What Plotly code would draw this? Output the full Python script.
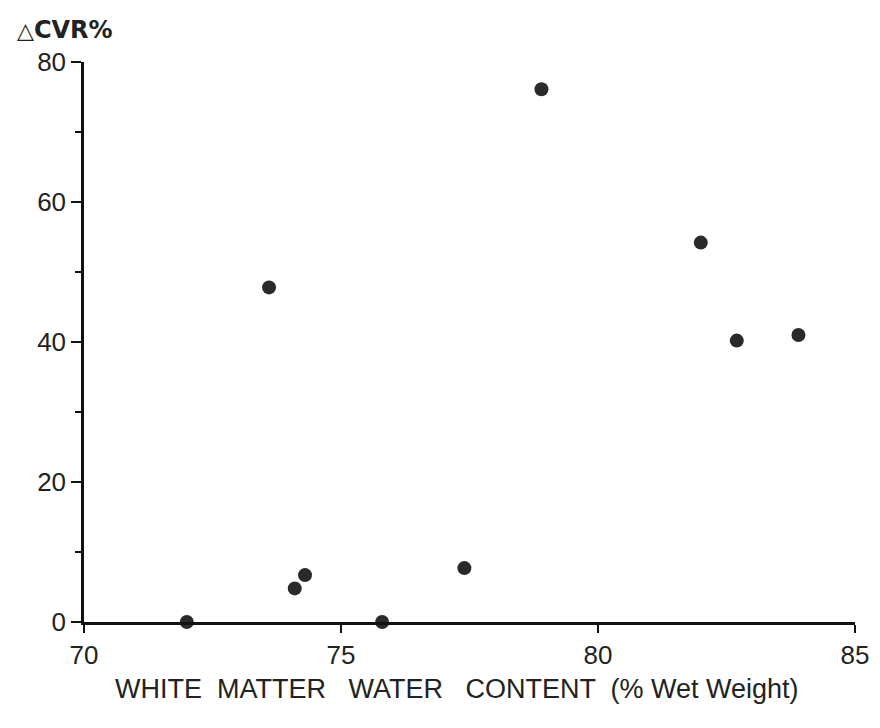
import plotly.graph_objects as go

# Data
water_content = [72.0, 73.6, 74.1, 74.3, 75.8, 77.4, 78.9, 82.0, 82.7, 83.9]
delta_cvr = [0.0, 47.8, 4.8, 6.7, 0.0, 7.7, 76.1, 54.2, 40.2, 41.0]

x_ticks = [70, 75, 80, 85]
y_ticks = [0, 20, 40, 60, 80]

FONT = "Liberation Sans, Arial, Helvetica, sans-serif"
INK = "#222222"

fig = go.Figure()
fig.add_trace(go.Scatter(
    x=water_content, y=delta_cvr, mode="markers",
    marker=dict(size=14, color="#2a2a2a", line=dict(width=0)),
    cliponaxis=False, showlegend=False,
))

fig.update_layout(
    width=880, height=728,
    margin=dict(l=76, r=33, t=54, b=114),
    paper_bgcolor="white", plot_bgcolor="white",
    font=dict(family=FONT, color=INK),
    xaxis=dict(
        range=[70, 85], tickvals=x_ticks, ticktext=[str(v) for v in x_ticks],
        showline=True, linecolor="#111", linewidth=2.5,
        ticks="outside", ticklen=8, tickwidth=1.5, tickcolor="#111",
        showgrid=False, zeroline=False,
        tickfont=dict(size=26, family=FONT, color=INK),
    ),
    yaxis=dict(
        range=[0, 80], tickvals=y_ticks, ticktext=[str(v) for v in y_ticks],
        showline=True, linecolor="#111", linewidth=2.5,
        ticks="outside", ticklen=10, tickwidth=1.5, tickcolor="#111",
        minor=dict(dtick=10, ticks="outside", ticklen=6, tickwidth=1.5, tickcolor="#111"),
        showgrid=False, zeroline=False,
        tickfont=dict(size=26, family=FONT, color=INK),
    ),
    annotations=[
        dict(text="<b><span style='font-size:22px'>△</span>CVR%</b>",
             xref="paper", yref="paper", x=-0.09, y=1.058,
             xanchor="left", yanchor="middle", showarrow=False,
             font=dict(size=24, family="DejaVu Sans, sans-serif", color=INK)),
        dict(text="WHITE  MATTER   WATER   CONTENT  (% Wet Weight)",
             xref="paper", yref="paper", x=0.484, y=-0.119,
             xanchor="center", yanchor="middle", showarrow=False,
             font=dict(size=27, family=FONT, color=INK)),
    ],
)

fig.write_html("out.html")
